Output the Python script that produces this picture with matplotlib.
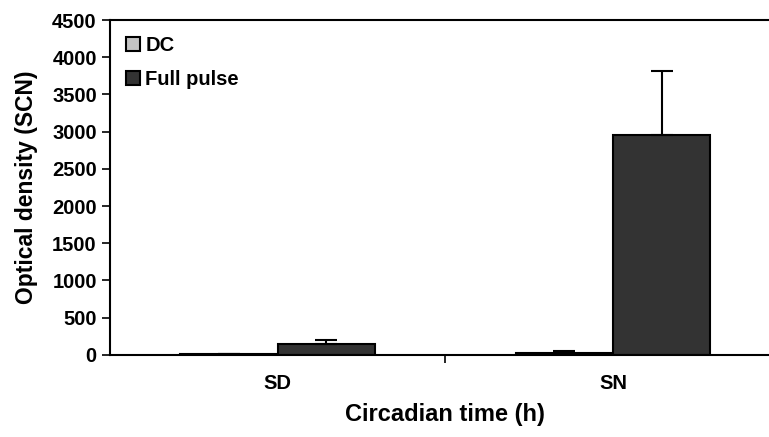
import matplotlib.pyplot as plt
import numpy as np

plt.rcParams['font.family'] = ['Liberation Sans', 'DejaVu Sans']
plt.rcParams['font.weight'] = 'bold'

categories = ["SD", "SN"]
series_names = ["DC", "Full pulse"]
dc_values = [12, 30]
dc_errors = [5, 18]
full_values = [150, 2950]
full_errors = [55, 870]
y_ticks = [0, 500, 1000, 1500, 2000, 2500, 3000, 3500, 4000, 4500]

fig = plt.figure(figsize=(7.69, 4.37), dpi=100)
ax = fig.add_axes([0.143, 0.188, 0.872, 0.766])

x = np.arange(len(categories))
w = 0.29
err_kw = dict(ecolor="black", elinewidth=1.5, capsize=8, capthick=1.5)
ax.bar(x - w / 2, dc_values, w, color="#c4c4c4", edgecolor="black",
       linewidth=1.5, label=series_names[0])
ax.errorbar(x - w / 2, dc_values, yerr=[[0, 0], dc_errors], fmt="none", **err_kw)
ax.bar(x + w / 2, full_values, w, color="#333333", edgecolor="black",
       linewidth=1.5, label=series_names[1])
ax.errorbar(x + w / 2, full_values, yerr=[[0, 0], full_errors], fmt="none", **err_kw)

ax.set_xlim(-0.5, 1.5)
ax.set_ylim(0, 4500)
ax.set_yticks(y_ticks)
ax.set_xticks(x)
ax.set_xticklabels(categories)
ax.set_xticks([0.5], minor=True)
ax.tick_params(axis="x", which="major", length=0, pad=14, labelsize=14.5)
ax.tick_params(axis="x", which="minor", length=6, width=1.2, direction="out")
ax.tick_params(axis="y", length=6, width=1.2, direction="out", labelsize=14.5)

ax.spines["right"].set_visible(False)
for s in ["left", "bottom", "top"]:
    ax.spines[s].set_linewidth(1.5)

ax.set_ylabel("Optical density (SCN)", fontsize=16.5, fontweight="bold", labelpad=10)
ax.set_xlabel("Circadian time (h)", fontsize=17, fontweight="bold", labelpad=7)

ax.legend(loc="upper left", frameon=False, fontsize=14.5, handlelength=0.7,
          handleheight=0.7, handletextpad=0.25, labelspacing=0.75,
          borderaxespad=0.4, bbox_to_anchor=(0.0, 1.0))

fig.savefig("out.png", dpi=100)
